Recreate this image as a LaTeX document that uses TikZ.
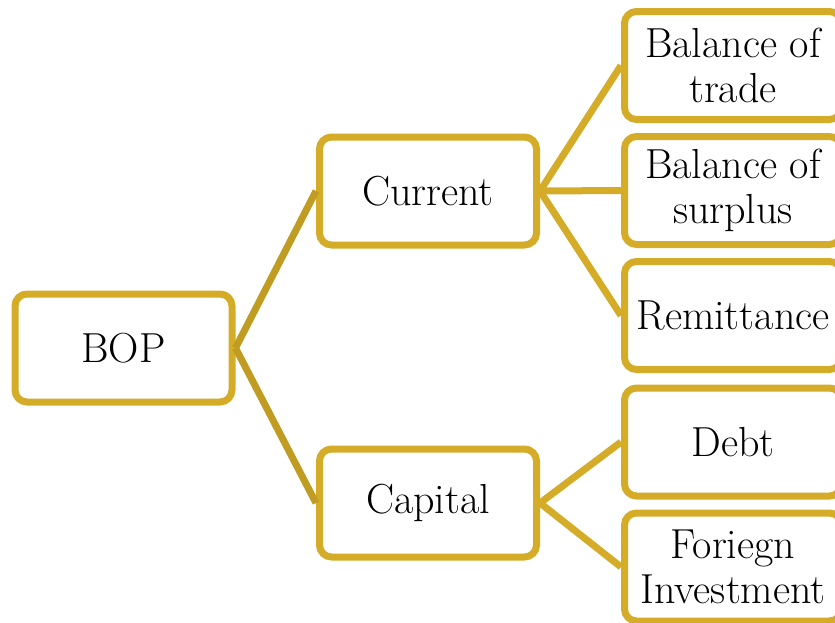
\documentclass[tikz,border=0pt]{standalone}
\definecolor{gold}{HTML}{D4AC28}
\definecolor{darkgold}{HTML}{C09C22}
\begin{document}
\begin{tikzpicture}[x=1pt,y=-1pt,
  box/.style={draw=gold,line width=7pt,rounded corners=12pt,fill=white,
    minimum width=217pt,minimum height=108pt,align=center,inner sep=0pt,
    font=\fontsize{42}{45}\selectfont},
  link/.style={draw=gold,line width=7pt},
  rootlink/.style={draw=darkgold,line width=7pt}]
\useasboundingbox (0,0) rectangle (835,622);
\clip (0,0) rectangle (835,622);
\node[box] (bop) at (123.5,348) {BOP};
\node[box] (cur) at (428,191) {Current};
\node[box] (cap) at (428,503) {Capital};
\node[box] (bt) at (733,65.5) {Balance of\\trade};
\node[box] (bs) at (733,190.5) {Balance of\\surplus};
\node[box] (rem) at (733,315.5) {Remittance};
\node[box] (debt) at (733,442) {Debt};
\node[box] (fi) at (733,567) {Foriegn\\Investment};
\draw[rootlink] (bop.east) -- (cur.west);
\draw[rootlink] (bop.east) -- (cap.west);
\draw[link] (cur.east) -- (bt.west);
\draw[link] (cur.east) -- (bs.west);
\draw[link] (cur.east) -- (rem.west);
\draw[link] (cap.east) -- (debt.west);
\draw[link] (cap.east) -- (fi.west);
\end{tikzpicture}
\end{document}
